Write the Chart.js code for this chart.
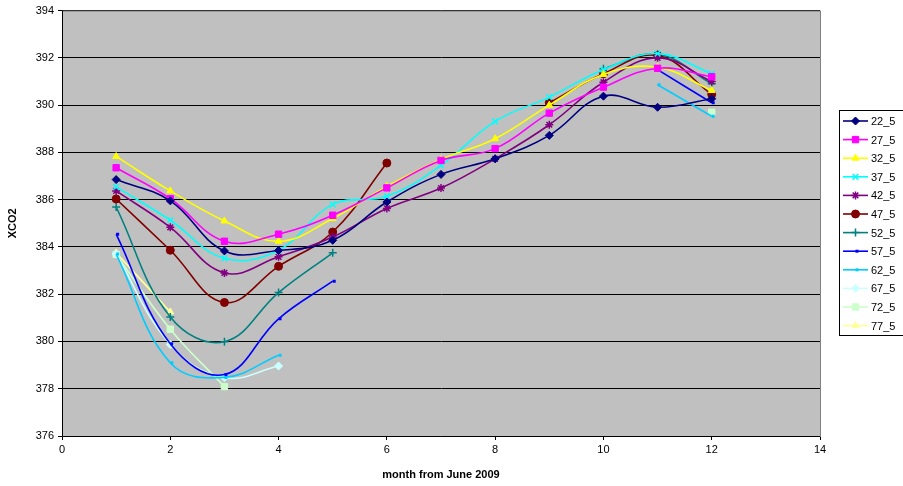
<!DOCTYPE html>
<html>
<head>
<meta charset="utf-8">
<script src="https://cdn.jsdelivr.net/npm/chart.js@4"></script>
<style>
  html, body { margin: 0; padding: 0; background: #fff; }
  #wrap { width: 903px; height: 486px; position: relative; }
</style>
</head>
<body>
<div id="wrap"><canvas id="xcoChart"></canvas></div>
<script>
// months since June 2009
const months = [1, 2, 3, 4, 5, 6, 7, 8, 9, 10, 11, 12];

// XCO2 per latitude band
const s22_5 = [386.85, 385.95, 383.83, 383.85, 384.28, 385.90, 387.07, 387.73, 388.72, 390.38, 389.91, 390.27];
const s27_5 = [387.35, 386.04, 384.24, 384.54, 385.34, 386.50, 387.66, 388.16, 389.66, 390.76, 391.56, 391.20];
const s32_5 = [387.83, 386.37, 385.10, 384.24, 385.20, 386.56, 387.70, 388.58, 390.00, 391.30, 391.60, 390.62];
const s37_5 = [386.54, 385.13, 383.52, 383.86, 385.80, 386.14, 387.45, 389.31, 390.34, 391.50, 392.18, 391.33];
const s42_5 = [386.37, 384.83, 382.90, 383.58, 384.42, 385.63, 386.49, 387.73, 389.17, 390.97, 392.00, 391.00];
const s47_5 = [386.03, 383.86, 381.65, 383.18, 384.63, 387.55, null, null, 390.10, 391.33, 392.10, 390.45];
const s52_5 = [385.69, 381.04, 379.99, 382.07, 383.75, null, null, null, null, 391.54, 392.15, 390.90];
const s57_5 = [384.54, 379.90, 378.60, 380.96, 382.55, null, null, null, null, null, 391.50, 390.10];
const s62_5 = [383.70, 379.10, 378.48, 379.42, null, null, null, null, null, null, 390.86, 389.53];
const s67_5 = [383.70, 379.87, 378.47, 378.96, null, null, null, null, null, null, null, null];
const s72_5 = [383.68, 380.52, 378.09, null, null, null, null, null, null, null, null, 389.70];
const s77_5 = [383.75, 381.25, null, null, null, null, null, null, null, null, null, null];

const seriesNames = ["22_5", "27_5", "32_5", "37_5", "42_5", "47_5", "52_5", "57_5", "62_5", "67_5", "72_5", "77_5"];
const seriesData = [s22_5, s27_5, s32_5, s37_5, s42_5, s47_5, s52_5, s57_5, s62_5, s67_5, s72_5, s77_5];
const colors = ["#000080", "#FF00FF", "#FFFF00", "#00FFFF", "#800080", "#800000",
                "#008080", "#0000FF", "#00CCFF", "#CCFFFF", "#CCFFCC", "#FFFF99"];
const markers = ["rectRot", "rect", "triangle", "crossRot", "star", "circle",
                 "cross", "dash", "dash", "rectRot", "rect", "triangle"];

const xTicks = [0, 2, 4, 6, 8, 10, 12, 14];
const yTicks = [376, 378, 380, 382, 384, 386, 388, 390, 392, 394];

const FONT = "'Liberation Sans', Arial, sans-serif";

function markerRadius(style) {
  if (style === "rect") return 4.5;
  if (style === "dash") return 3;
  return 4;
}
function markerBorder(style) {
  if (style === "dash") return 3;
  if (style === "crossRot" || style === "star" || style === "cross") return 1.5;
  return 1;
}

const datasets = seriesNames.map((name, i) => ({
  label: name,
  data: months.map((m, k) => ({ x: m, y: seriesData[i][k] })),
  borderColor: colors[i],
  backgroundColor: colors[i],
  pointBackgroundColor: colors[i],
  pointBorderColor: colors[i],
  pointStyle: markers[i],
  pointRadius: markerRadius(markers[i]),
  pointBorderWidth: markerBorder(markers[i]),
  borderWidth: 1.6,
  tension: 0.4,
  spanGaps: false,
  fill: false,
}));

// gray plot area + frame
const plotBg = {
  id: "plotBg",
  beforeDraw(chart) {
    const { ctx, chartArea: a } = chart;
    ctx.save();
    ctx.fillStyle = "#C0C0C0";
    ctx.fillRect(a.left, a.top, a.right - a.left, a.bottom - a.top);
    ctx.restore();
  },
  afterDraw(chart) {
    const { ctx, chartArea: a } = chart;
    ctx.save();
    ctx.strokeStyle = "#808080";
    ctx.lineWidth = 1;
    ctx.strokeRect(a.left + 0.5, a.top + 0.5, a.right - a.left, a.bottom - a.top);
    ctx.strokeStyle = "#000";
    ctx.beginPath();
    ctx.moveTo(a.left + 0.5, a.top);
    ctx.lineTo(a.left + 0.5, a.bottom + 0.5);
    ctx.lineTo(a.right, a.bottom + 0.5);
    ctx.stroke();
    ctx.restore();
  },
};

// excel style legend: line with marker, framed box
const boxLegend = {
  id: "boxLegend",
  afterDraw(chart) {
    const { ctx } = chart;
    const left = 839.5, top = 110.5, rowH = 18.6;
    ctx.save();
    ctx.fillStyle = "#fff";
    ctx.fillRect(left, top, 70, 225);
    ctx.strokeStyle = "#000";
    ctx.lineWidth = 1;
    ctx.strokeRect(left, top, 70, 225);
    ctx.font = "11px " + FONT;
    ctx.textBaseline = "middle";
    chart.data.datasets.forEach((ds, i) => {
      const y = 121 + i * rowH;
      ctx.strokeStyle = ds.borderColor;
      ctx.lineWidth = 1.6;
      ctx.beginPath();
      ctx.moveTo(843, y);
      ctx.lineTo(868, y);
      ctx.stroke();
      ctx.fillStyle = ds.pointBackgroundColor;
      ctx.strokeStyle = ds.pointBorderColor;
      ctx.lineWidth = ds.pointBorderWidth;
      Chart.helpers.drawPoint(ctx, { pointStyle: ds.pointStyle, radius: ds.pointRadius, borderWidth: ds.pointBorderWidth, rotation: 0 }, 855.5, y);
      ctx.fillStyle = "#000";
      ctx.fillText(ds.label, 871, y + 1);
    });
    ctx.restore();
  },
};

new Chart(document.getElementById("xcoChart"), {
  type: "line",
  data: { datasets },
  options: {
    responsive: true,
    maintainAspectRatio: false,
    animation: false,
    layout: { padding: { top: 10, right: 83, left: 0, bottom: 0 } },
    plugins: {
      legend: { display: false },
      tooltip: { enabled: false },
    },
    scales: {
      x: {
        type: "linear",
        min: 0,
        max: 14,
        afterBuildTicks(scale) { scale.ticks = xTicks.map(v => ({ value: v })); },
        afterFit(scale) { scale.height = 50; },
        grid: { drawOnChartArea: false, drawTicks: true, tickLength: 4, color: "#000" },
        border: { color: "#000" },
        ticks: { color: "#000", font: { family: FONT, size: 11 }, padding: 3, maxRotation: 0 },
        title: { display: true, text: "month from June 2009", color: "#000", font: { family: FONT, size: 11, weight: "bold" }, padding: { top: 9 } },
      },
      y: {
        min: 376,
        max: 394,
        afterBuildTicks(scale) { scale.ticks = yTicks.map(v => ({ value: v })); },
        afterFit(scale) { scale.width = 62; },
        grid: { color: "#000", lineWidth: 1, drawTicks: true, tickLength: 4 },
        border: { color: "#000" },
        ticks: { color: "#000", font: { family: FONT, size: 11 }, padding: 4 },
        title: { display: true, text: "XCO2", color: "#000", font: { family: FONT, size: 11, weight: "bold" }, padding: { top: 6, bottom: 4 } },
      },
    },
  },
  plugins: [plotBg, boxLegend],
});
</script>
</body>
</html>
